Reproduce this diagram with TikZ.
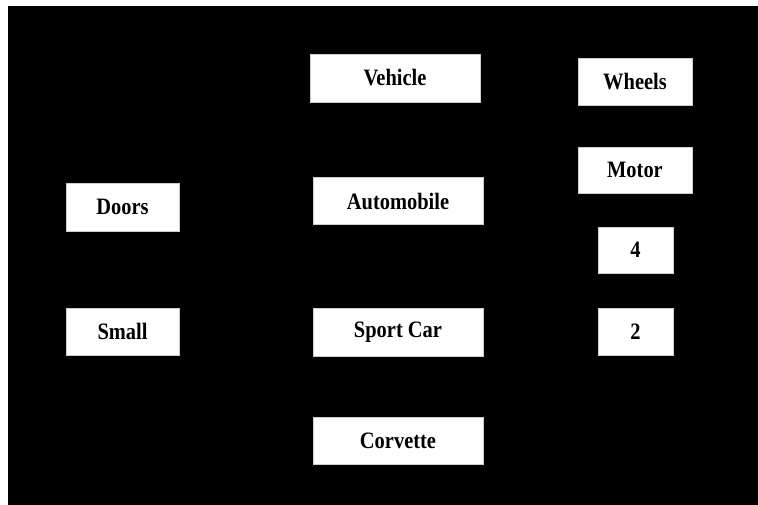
\documentclass[tikz,border=0pt]{standalone}
\usepackage{fontspec}
\setmainfont{Liberation Serif}[FakeStretch=0.87]
\begin{document}
\begin{tikzpicture}[x=1pt,y=-1pt,
  box/.style={fill=white, draw=white!80!black, line width=0.6pt, inner sep=0pt,
    font=\fontsize{23.5}{26}\selectfont\bfseries, text=black}]
\useasboundingbox (0,0) rectangle (758,504);
\fill[white] (0,0) rectangle (758,504);
\fill[black] (8,6) rectangle (770,520);
\node[box, minimum width=170pt, minimum height=48pt] (vehicle) at (395,78) {Vehicle};
\node[box, minimum width=114pt, minimum height=47pt] (wheels) at (635,81.5) {Wheels};
\node[box, minimum width=114pt, minimum height=46pt] (motor) at (635,170) {Motor};
\node[box, minimum width=170pt, minimum height=47pt] (auto) at (398,201) {Automobile};
\node[box, minimum width=113pt, minimum height=48pt] (doors) at (122.5,207) {Doors};
\node[box, minimum width=75pt, minimum height=46pt] (four) at (635.5,250) {4};
\node[box, minimum width=113pt, minimum height=47pt] (small) at (122.5,331.5) {Small};
\node[box, minimum width=170pt, minimum height=48pt] (sport) at (398,332) {Sport Car};
\node[box, minimum width=75pt, minimum height=47pt] (two) at (635.5,331.5) {2};
\node[box, minimum width=170pt, minimum height=47pt] (corvette) at (398,440.5) {Corvette};
\end{tikzpicture}
\end{document}
